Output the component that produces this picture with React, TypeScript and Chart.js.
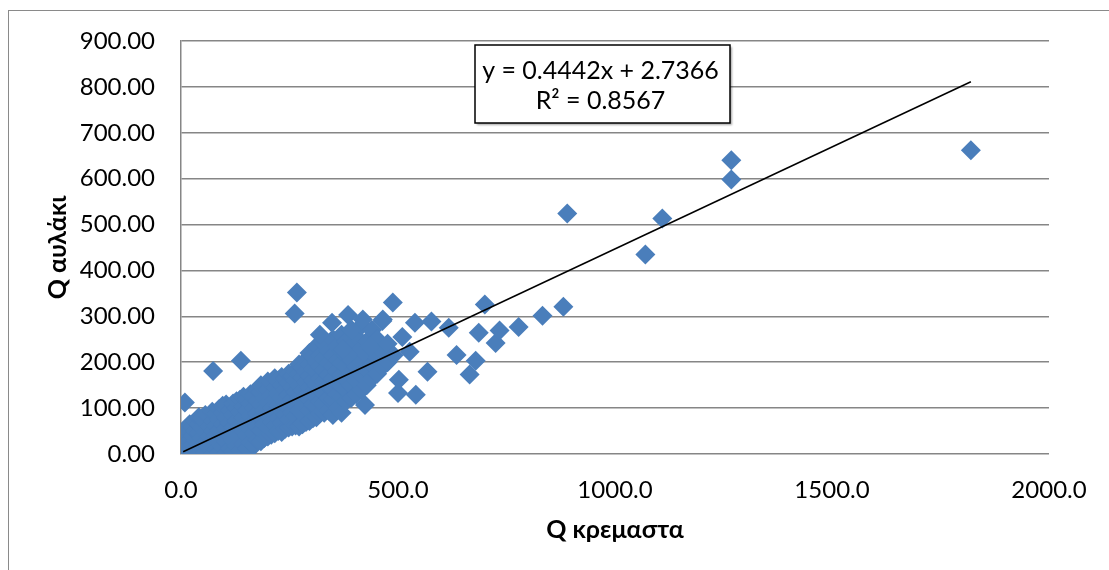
import React, { useEffect, useRef } from "react";
import { Chart, registerables } from "chart.js";

Chart.register(...registerables);

// Axis ticks
const xTickValues = [0, 500, 1000, 1500, 2000];
const yTickValues = [0, 100, 200, 300, 400, 500, 600, 700, 800, 900];

// Trendline (from the equation shown on the chart)
const slope = 0.4442;
const intercept = 2.7366;
const rSquared = 0.8567;
const trendXRange = [5, 1820];

// Dense band of observations: [Q κρεμαστα, list of Q αυλάκι values]
const bandColumns: [number, number[]][] = [
  [3, [2, 12]],
  [8, [5, 25, 40]],
  [14, [0, 18, 35, 55]],
  [20, [8, 28, 48, 65]],
  [27, [2, 20, 40, 60]],
  [34, [10, 30, 50, 72]],
  [41, [0, 22, 45, 65, 80]],
  [48, [12, 35, 58, 78]],
  [56, [3, 25, 48, 70, 85]],
  [64, [15, 38, 60, 82]],
  [72, [0, 28, 50, 72, 92]],
  [80, [10, 40, 62, 88]],
  [88, [4, 25, 52, 75, 98]],
  [96, [15, 38, 65, 90, 105]],
  [104, [2, 28, 55, 80, 108]],
  [112, [12, 42, 68, 95]],
  [120, [5, 30, 58, 85, 110]],
  [128, [18, 45, 72, 100, 115]],
  [136, [8, 35, 62, 90, 118]],
  [144, [22, 50, 78, 105, 125]],
  [152, [12, 40, 68, 95, 120]],
  [160, [25, 55, 82, 110, 130]],
  [168, [18, 45, 72, 100, 128]],
  [176, [30, 60, 88, 115, 140]],
  [184, [28, 52, 80, 108, 135, 150]],
  [192, [35, 65, 95, 122, 148]],
  [200, [38, 58, 85, 112, 140, 158]],
  [208, [42, 70, 100, 128, 155]],
  [216, [45, 62, 90, 118, 145, 165]],
  [224, [50, 78, 105, 132, 160]],
  [232, [48, 68, 95, 122, 150, 168]],
  [240, [55, 85, 112, 140, 165]],
  [248, [58, 75, 100, 128, 155, 175]],
  [256, [60, 90, 118, 145, 170]],
  [264, [62, 82, 108, 135, 160, 180]],
  [272, [60, 95, 122, 150, 175, 195]],
  [280, [65, 88, 112, 140, 165, 190]],
  [288, [70, 100, 128, 155, 180, 205]],
  [296, [72, 95, 118, 145, 170, 195, 220]],
  [304, [78, 108, 135, 160, 185, 212]],
  [312, [80, 102, 125, 150, 178, 200, 235]],
  [320, [88, 115, 140, 165, 190, 215]],
  [330, [90, 110, 132, 158, 182, 208, 240]],
  [340, [95, 122, 148, 172, 198, 225]],
  [350, [85, 118, 140, 165, 190, 215, 250]],
  [360, [100, 130, 155, 180, 205, 235]],
  [370, [90, 125, 148, 172, 198, 225, 260]],
  [380, [115, 140, 165, 190, 215, 245]],
  [392, [122, 150, 178, 205, 235, 270]],
  [404, [130, 160, 190, 220, 255]],
  [416, [140, 172, 200, 230, 280]],
  [428, [150, 185, 215, 245]],
  [440, [165, 195, 230, 270]],
  [452, [175, 210, 250]],
  [464, [190, 225, 290]],
  [476, [200, 240]],
  [490, [215]],
];

// Scattered observations outside the band: [Q κρεμαστα, Q αυλάκι]
const scatteredPoints: [number, number][] = [
  [9, 112], [74, 181], [138, 203], [267, 352], [262, 306],
  [320, 260], [348, 286], [385, 303], [419, 293], [465, 293],
  [393, 271], [435, 234], [373, 227], [424, 107], [488, 330],
  [510, 255], [527, 223], [539, 286], [577, 289], [617, 275],
  [568, 179], [502, 162], [500, 133], [541, 129], [635, 216],
  [665, 173], [679, 203], [686, 264], [700, 326], [725, 242],
  [734, 269], [778, 277], [833, 301], [881, 321], [890, 524],
  [1070, 435], [1109, 513], [1268, 598], [1268, 640], [1820, 662],
];

const fontFamily = "Lato, 'Noto Sans', sans-serif";
const tickFont = { family: fontFamily, size: 24 };
const titleFont = { family: fontFamily, size: 25, weight: "bold" as const };
const gridColor = "#868686";
const markerColor = "#4a7ebb";

const equationBox = {
  id: "equationBox",
  afterDatasetsDraw(chart: Chart) {
    const { ctx, chartArea } = chart;
    const left = chartArea.left + 294;
    const top = chartArea.top + 4;
    const w = 255;
    const h = 78;
    ctx.save();
    ctx.shadowColor = "rgba(0,0,0,0.35)";
    ctx.shadowOffsetX = 2;
    ctx.shadowOffsetY = 2;
    ctx.shadowBlur = 2;
    ctx.fillStyle = "#ffffff";
    ctx.fillRect(left, top, w, h);
    ctx.shadowColor = "transparent";
    ctx.strokeStyle = "#000000";
    ctx.lineWidth = 1.5;
    ctx.strokeRect(left, top, w, h);
    ctx.fillStyle = "#000000";
    ctx.font = `25px ${fontFamily}`;
    ctx.textAlign = "center";
    ctx.textBaseline = "middle";
    const cx = left + w / 2 - 2;
    ctx.fillText(`y = ${slope}x + ${intercept}`, cx, top + 26);
    ctx.fillText(`R² = ${rSquared}`, cx, top + 56);
    ctx.restore();
  },
};

export default function App() {
  const canvasRef = useRef<HTMLCanvasElement>(null);

  useEffect(() => {
    if (!canvasRef.current) return;
    const points = [
      ...bandColumns.flatMap(([x, ys]) => ys.map((y) => ({ x, y }))),
      ...scatteredPoints.map(([x, y]) => ({ x, y })),
    ];
    const trend = trendXRange.map((x) => ({ x, y: slope * x + intercept }));

    const chart = new Chart(canvasRef.current, {
      type: "scatter",
      data: {
        datasets: [
          {
            type: "line",
            data: trend,
            borderColor: "#000000",
            borderWidth: 1.5,
            pointRadius: 0,
            fill: false,
            order: 0,
          } as any,
          {
            data: points,
            pointStyle: "rectRot",
            pointRadius: 10,
            pointBorderWidth: 0,
            backgroundColor: markerColor,
            borderColor: markerColor,
            order: 1,
          },
        ],
      },
      options: {
        animation: false,
        responsive: false,
        maintainAspectRatio: false,
        layout: { padding: { top: 30, right: 60, left: 0, bottom: 0 } },
        plugins: { legend: { display: false }, tooltip: { enabled: false } },
        scales: {
          x: {
            type: "linear",
            min: 0,
            max: 2000,
            afterBuildTicks: (s: any) => {
              s.ticks = xTickValues.map((v) => ({ value: v }));
            },
            grid: { display: false, drawTicks: false },
            border: { display: false },
            ticks: {
              padding: 22,
              font: tickFont,
              color: "#000000",
              maxRotation: 0,
              autoSkip: false,
              callback: (v: any) => Number(v).toFixed(1),
            },
            title: {
              display: true,
              text: "Q κρεμαστα",
              font: titleFont,
              color: "#000000",
              padding: { top: 0, bottom: 25 },
            },
            afterFit: (s: any) => {
              s.height = 116;
            },
          },
          y: {
            type: "linear",
            min: 0,
            max: 900,
            afterBuildTicks: (s: any) => {
              s.ticks = yTickValues.map((v) => ({ value: v }));
            },
            grid: { color: gridColor, lineWidth: 1.5, drawTicks: false },
            border: { display: true, color: gridColor, width: 1.5 },
            ticks: {
              padding: 26,
              font: tickFont,
              color: "#000000",
              autoSkip: false,
              callback: (v: any) => Number(v).toFixed(2),
            },
            title: {
              display: true,
              text: "Q αυλάκι",
              font: titleFont,
              color: "#000000",
              padding: { top: 34, bottom: 0 },
            },
            afterFit: (s: any) => {
              s.width = 172;
              s.paddingTop = 0;
              s.paddingBottom = 0;
            },
          },
        },
      },
      plugins: [equationBox],
    });
    return () => chart.destroy();
  }, []);

  return (
    <div
      style={{
        position: "fixed",
        left: 8,
        top: 10,
        width: 1101,
        height: 560,
        borderTop: "1px solid #8a8a8a",
        borderLeft: "1px solid #8a8a8a",
        boxSizing: "border-box",
        background: "#ffffff",
      }}
    >
      <canvas ref={canvasRef} width={1100} height={559} style={{ display: "block" }} />
    </div>
  );
}
